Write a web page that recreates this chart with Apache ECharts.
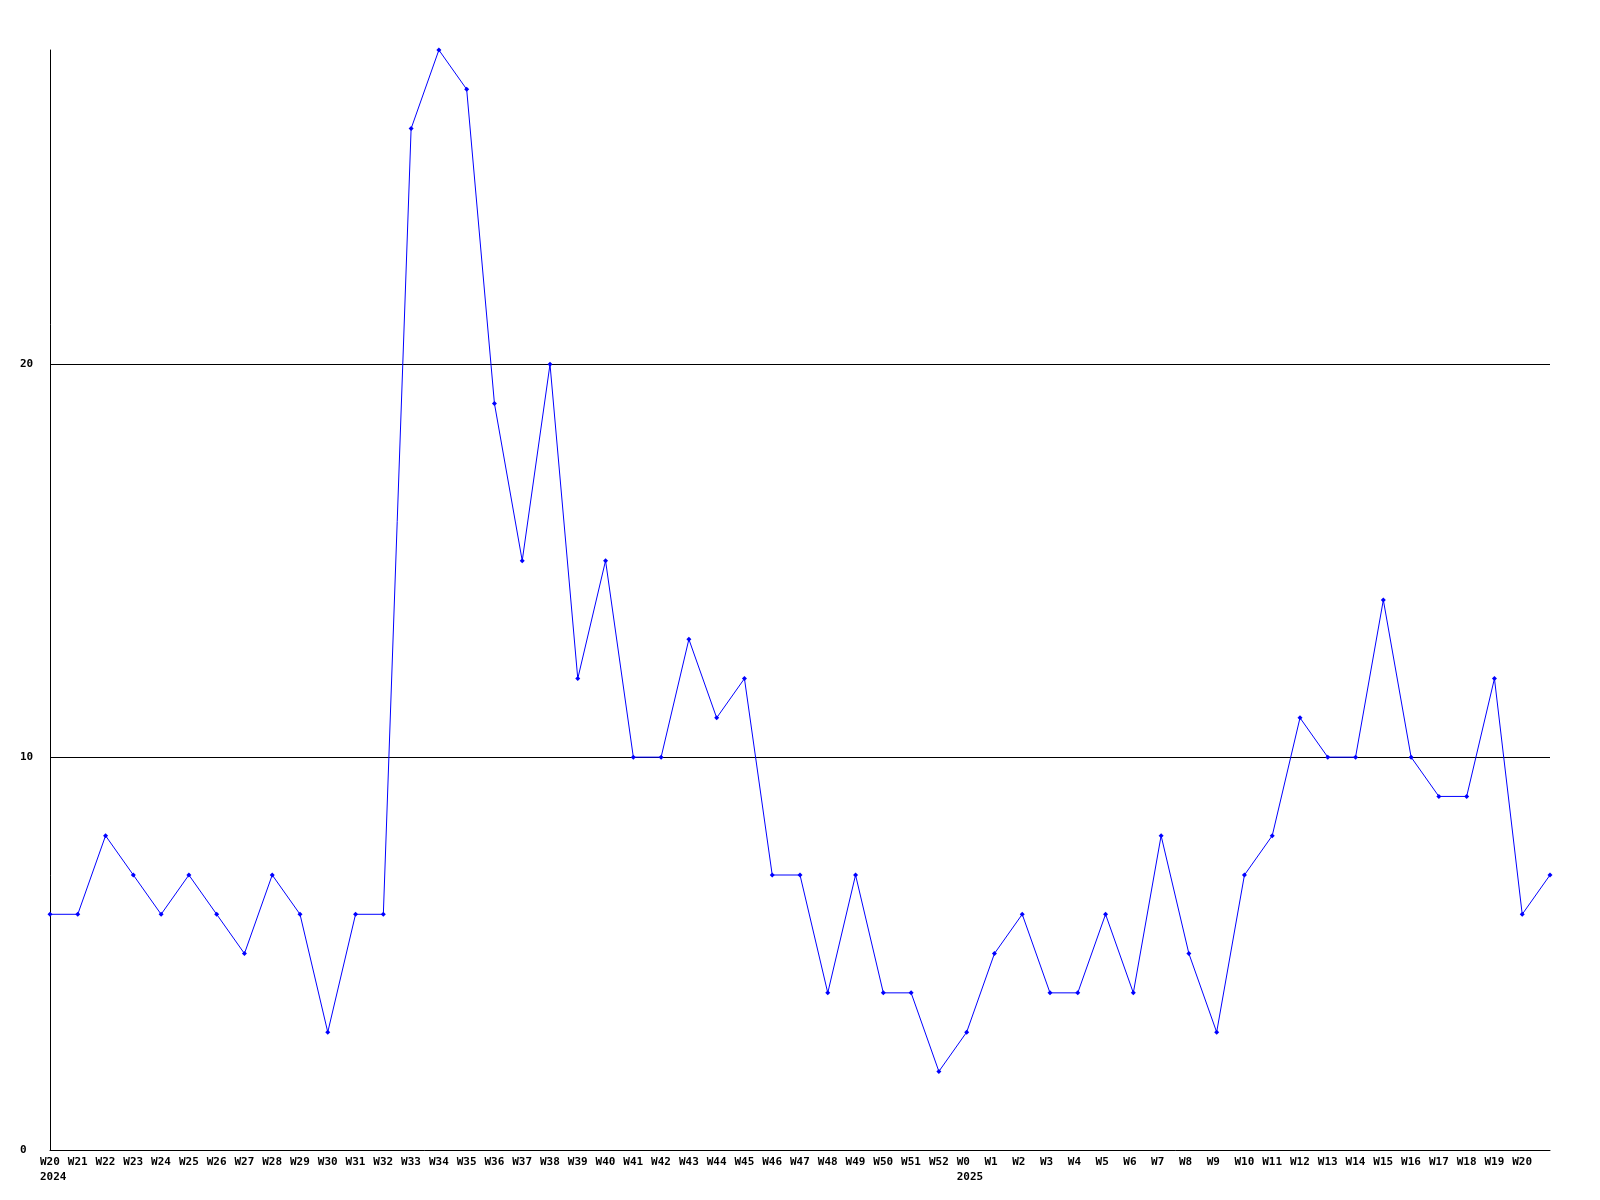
<!DOCTYPE html>
<html>
<head>
<meta charset="utf-8">
<script src="https://cdn.jsdelivr.net/npm/echarts@6/dist/echarts.min.js"></script>
<style>html,body{margin:0;padding:0;background:#fff;}#c{width:1600px;height:1200px;}</style>
</head>
<body>
<div id="c"></div>
<script>
const weeks = ['W20','W21','W22','W23','W24','W25','W26','W27','W28','W29','W30','W31','W32','W33','W34','W35','W36','W37','W38','W39','W40','W41','W42','W43','W44','W45','W46','W47','W48','W49','W50','W51','W52','W0','W1','W2','W3','W4','W5','W6','W7','W8','W9','W10','W11','W12','W13','W14','W15','W16','W17','W18','W19','W20',''];
const years = {0:'2024', 33:'2025'};
const values = [6,6,8,7,6,7,6,5,7,6,3,6,6,26,28,27,19,15,20,12,15,10,10,13,11,12,7,7,4,7,4,4,2,3,5,6,4,4,6,4,8,5,3,7,8,11,10,10,14,10,9,9,12,6,7];
const gridLines = [10, 20];
const yTicks = [0, 10, 20];

const font = {fontFamily:'DejaVu Sans Mono', fontWeight:'bold', fontSize:11, color:'#000'};
const chart = echarts.init(document.getElementById('c'), null, {renderer:'canvas'});
chart.setOption({
  animation:false,
  backgroundColor:'#fff',
  grid:{left:50,right:50,top:50,bottom:50},
  xAxis:{
    type:'category',
    data:weeks.map((w,i)=>i),
    boundaryGap:false,
    axisLine:{lineStyle:{color:'#000',width:1}},
    axisTick:{show:false},
    splitLine:{show:false},
    axisLabel:Object.assign({}, font, {
      interval:0, align:'left', margin:5, lineHeight:15,
      padding:[0,0,0,-10],
      formatter:function(v){const i=+v; return years[i] ? weeks[i]+'\n'+years[i] : weeks[i];}
    })
  },
  yAxis:{
    type:'value', min:0, max:28, interval:10,
    axisLine:{show:true,lineStyle:{color:'#000',width:1}},
    axisTick:{show:false},
    splitLine:{show:false},
    axisLabel:Object.assign({}, font, {
      align:'left', margin:30, showMaxLabel:false,
      formatter:function(v){return yTicks.indexOf(v)>=0 ? String(v) : '';}
    })
  },
  series:[{
    type:'line',
    data:values,
    symbol:'diamond',
    symbolSize:5,
    showAllSymbol:true,
    lineStyle:{color:'#0000ff',width:1},
    itemStyle:{color:'#0000ff'},
    markLine:{
      silent:true, symbol:'none', label:{show:false}, z:1,
      lineStyle:{color:'#000',width:1,type:'solid'},
      emphasis:{disabled:true},
      data:gridLines.map(v=>({yAxis:v}))
    }
  }]
});
</script>
</body>
</html>
